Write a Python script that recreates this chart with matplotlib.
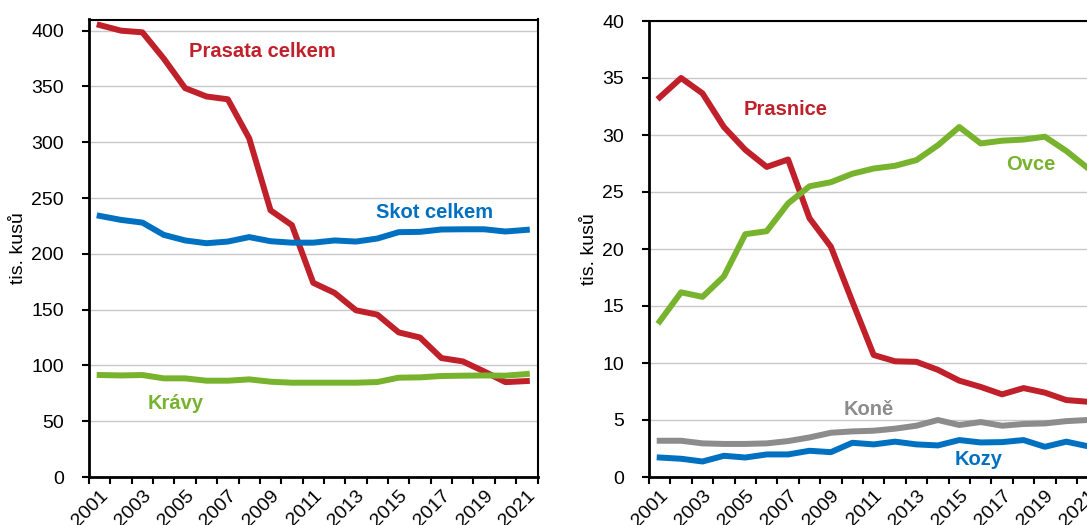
import numpy as np
import matplotlib
matplotlib.use("Agg")
from matplotlib import pyplot as plt

plt.rcParams["font.family"] = ["Liberation Sans", "DejaVu Sans"]

years = list(range(2001, 2022))

# left panel (tis. kusu)
prasata = [405, 400, 398.5, 375, 348.5, 341, 338.5, 303.5, 239, 225.7, 174, 165,
           149.4, 145.5, 129.6, 125, 106.6, 103.6, 94.6, 85, 86]
skot = [234, 230.4, 228, 217, 212, 209.5, 211, 215, 211.3, 210, 210, 212,
        211, 213.7, 219.4, 219.7, 221.8, 222, 222, 220, 221.5]
kravy = [91.4, 91, 91.4, 88.4, 88.4, 86.3, 86.3, 87.5, 85.4, 84.5, 84.5, 84.5,
         84.5, 85.1, 89, 89.3, 90.5, 90.8, 91, 90.8, 92.3]

# right panel
prasnice = [33.3, 35, 33.65, 30.7, 28.7, 27.2, 27.85, 22.7, 20.2, 15.4, 10.7, 10.15,
            10.1, 9.4, 8.45, 7.9, 7.25, 7.8, 7.4, 6.75, 6.6]
ovce = [13.65, 16.2, 15.8, 17.6, 21.3, 21.56, 24, 25.5, 25.86, 26.6, 27.06, 27.3,
        27.8, 29.1, 30.7, 29.26, 29.5, 29.6, 29.85, 28.6, 27.1]
kone = [3.18, 3.18, 2.95, 2.9, 2.9, 2.95, 3.15, 3.47, 3.88, 4.0, 4.06, 4.24,
        4.5, 5.0, 4.56, 4.82, 4.5, 4.65, 4.7, 4.9, 5.0]
kozy = [1.71, 1.6, 1.36, 1.86, 1.71, 1.98, 1.98, 2.3, 2.18, 3.0, 2.86, 3.1,
        2.86, 2.77, 3.24, 3.03, 3.06, 3.24, 2.65, 3.1, 2.7]

red = "#C0202A"
blue = "#0070C0"
green = "#78B32E"
gray = "#8C8C8C"
fs = 14


def style_axis(ax, ymax, ystep):
    n = len(years)
    x = np.arange(n)
    ax.set_xlim(-0.5, n - 0.5)
    ax.set_ylim(0, ymax)
    ax.set_yticks(np.arange(0, ymax + 0.01, ystep))
    ax.grid(axis="y", color="#C8C8C8", linewidth=1)
    ax.set_axisbelow(True)
    ax.set_xticks(x[::2])
    ax.set_xticklabels([str(y) for y in years[::2]], rotation=45, ha="right",
                       va="top", rotation_mode="anchor", fontsize=fs)
    ax.set_xticks(np.arange(-0.5, n), minor=True)
    ax.tick_params(axis="x", which="major", length=0, pad=7)
    ax.tick_params(axis="x", which="minor", length=5, width=1.5, direction="out")
    ax.tick_params(axis="y", length=5, width=1.5, direction="out", labelsize=fs, pad=13)
    for s in ["left", "bottom"]:
        ax.spines[s].set_linewidth(2)
    for s in ["top", "right"]:
        ax.spines[s].set_linewidth(1.5)
    ax.set_ylabel("tis. kusů", fontsize=fs, labelpad=3)
    return x


def main():
    fig = plt.figure(figsize=(10.87, 5.25), dpi=100)
    ax1 = fig.add_axes([89 / 1087, 48 / 525, 448.5 / 1087, 457.5 / 525])
    ax2 = fig.add_axes([649 / 1087, 48 / 525, 449.4 / 1087, 456 / 525])

    x = style_axis(ax1, 410, 50)
    ax1.plot(x, prasata, color=red, lw=4.3, solid_joinstyle="round")
    ax1.plot(x, skot, color=blue, lw=4.3, solid_joinstyle="round")
    ax1.plot(x, kravy, color=green, lw=4.3, solid_joinstyle="round")
    ax1.text(7.6, 381, "Prasata celkem", color=red, fontsize=14.5, fontweight="bold",
             ha="center", va="center")
    ax1.text(15.66, 237, "Skot celkem", color=blue, fontsize=14.5, fontweight="bold",
             ha="center", va="center")
    ax1.text(3.57, 66, "Krávy", color=green, fontsize=14.5, fontweight="bold",
             ha="center", va="center")

    x = style_axis(ax2, 40, 5)
    ax2.plot(x, prasnice, color=red, lw=4.3, solid_joinstyle="round")
    ax2.plot(x, ovce, color=green, lw=4.3, solid_joinstyle="round")
    ax2.plot(x, kone, color=gray, lw=4.3, solid_joinstyle="round")
    ax2.plot(x, kozy, color=blue, lw=4.3, solid_joinstyle="round")
    ax2.text(5.9, 32.2, "Prasnice", color=red, fontsize=14.5, fontweight="bold",
             ha="center", va="center")
    ax2.text(17.35, 27.4, "Ovce", color=green, fontsize=14.5, fontweight="bold",
             ha="center", va="center")
    ax2.text(9.78, 5.96, "Koně", color=gray, fontsize=14.5, fontweight="bold",
             ha="center", va="center")
    ax2.text(14.9, 1.5, "Kozy", color=blue, fontsize=14.5, fontweight="bold",
             ha="center", va="center")

    fig.savefig("out.png", dpi=100)


if __name__ == "__main__":
    main()
